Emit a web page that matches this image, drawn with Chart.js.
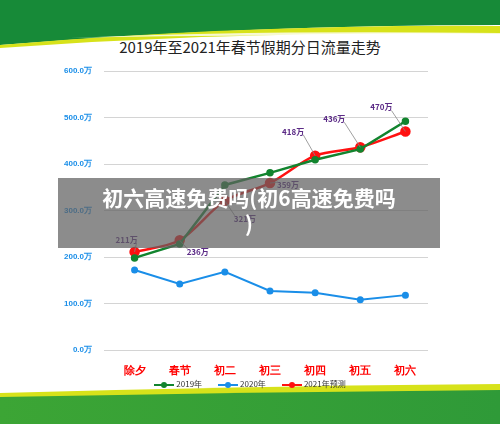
<!DOCTYPE html>
<html><head><meta charset="utf-8">
<script src="https://cdn.jsdelivr.net/npm/chart.js@4"></script>
<style>
body{margin:0;width:500px;height:424px;overflow:hidden;background:#fff;font-family:"Noto Sans CJK SC",sans-serif;position:relative}
#bg{position:absolute;left:0;top:0}
#c{position:absolute;left:0;top:0}
#title{position:absolute;top:36px;left:0;width:500px;text-align:center;font-size:15px;color:#222}
#legend{position:absolute;top:378px;left:0;width:500px;text-align:center;font-size:8px;color:#333}
#legend span{display:inline-block;margin:0 8px}
#legend i{display:inline-block;width:20px;height:2px;vertical-align:middle;position:relative;margin-right:2px}
#legend i b{position:absolute;left:7px;top:-2px;width:6px;height:6px;border-radius:3px}
#band{position:absolute;left:58px;top:178px;width:382px;height:70px;background:rgba(95,95,95,0.72);color:#fff;font-weight:bold;font-size:21px;text-align:center;line-height:26px;padding-top:6px;box-sizing:border-box}
</style></head><body>
<svg id="bg" width="500" height="424">
<defs><linearGradient id="g2" x1="0" x2="1"><stop offset="0" stop-color="#3ca535"/><stop offset="1" stop-color="#2f9a38"/></linearGradient></defs>
<path d="M0 0H500V25Q250 25 0 45Z" fill="#178a38"/>
<path d="M0 45Q250 24 500 26V34Q250 30 0 48Z" fill="#d7e21a"/>
<path d="M500 33Q250 30 70 38Q250 34 500 36Z" fill="#fff" opacity="0.8"/>
<path d="M0 393Q250 386 500 384V424H0Z" fill="#d7e21a"/>
<path d="M0 397Q250 392 500 390V424H0Z" fill="url(#g2)"/>
</svg>
<div id="title">2019年至2021年春节假期分日流量走势</div>
<canvas id="c" width="500" height="424"></canvas>
<div id="legend"><span><i style="background:#12842e"><b style="background:#12842e"></b></i>2019年</span><span><i style="background:#1a8ee8"><b style="background:#1a8ee8"></b></i>2020年</span><span><i style="background:#f11"><b style="background:#f11"></b></i>2021年预测</span></div>
<div id="band">初六高速免费吗(初6高速免费吗<br>)</div>
<script>
const categories=["除夕","春节","初二","初三","初四","初五","初六"];
const y2019=[198,228,355,381,409,432,492];
const y2020=[172,142,168,127,123,108,118];
const y2021=[211,236,321,359,418,436,470];
const yTicks=[0,100,200,300,400,500,600];
const labelOffsets=[[-8,-12],[18,12],[20,18],[18,2],[-22,-24],[-26,-28],[-24,-24]];
const labelPlugin={id:'lbl',afterDatasetsDraw(ch){
 const ctx=ch.ctx,m=ch.getDatasetMeta(2);
 ctx.save();ctx.font='bold 8px "Noto Sans CJK SC"';ctx.fillStyle='#5b2a86';ctx.strokeStyle='#888';ctx.lineWidth=0.8;ctx.textBaseline='middle';ctx.textAlign='center';
 m.data.forEach((p,i)=>{const [dx,dy]=labelOffsets[i];const tx=p.x+dx,ty=p.y+dy;
  ctx.beginPath();ctx.moveTo(p.x,p.y);ctx.lineTo(tx+(dx>0?-10:10),ty+(dy>0?-3:3));ctx.stroke();
  ctx.fillText(y2021[i]+'万',tx,ty);});
 ctx.restore();}};
new Chart(document.getElementById('c'),{type:'line',
 data:{labels:categories,datasets:[
  {label:'2019年',data:y2019,borderColor:'#12842e',backgroundColor:'#12842e',borderWidth:2.5,pointRadius:2.5,tension:0},
  {label:'2020年',data:y2020,borderColor:'#1a8ee8',backgroundColor:'#1a8ee8',borderWidth:2,pointRadius:2.5,tension:0},
  {label:'2021年预测',data:y2021,borderColor:'#f11',backgroundColor:'#f11',borderWidth:2.5,pointRadius:4,tension:0.3}]},
 options:{responsive:false,animation:false,events:[],
  layout:{padding:{left:60,right:72,top:71,bottom:44}},
  plugins:{legend:{display:false},title:{display:false},tooltip:{enabled:false}},
  scales:{
   x:{offset:true,grid:{display:false},border:{display:false},afterFit(s){s.height=30},ticks:{color:'#f00',font:{size:11,weight:'bold'},padding:6}},
   y:{min:0,max:600,afterFit(s){s.width=52},afterBuildTicks(s){s.ticks=yTicks.map(v=>({value:v}))},
      grid:{color:'#d4d4d4'},border:{display:false},
      ticks:{color:'#1a8ee8',font:{size:8,weight:'bold'},padding:12,callback:v=>v.toFixed(1)+'万'}}}},
 plugins:[labelPlugin]});
</script></body></html>
